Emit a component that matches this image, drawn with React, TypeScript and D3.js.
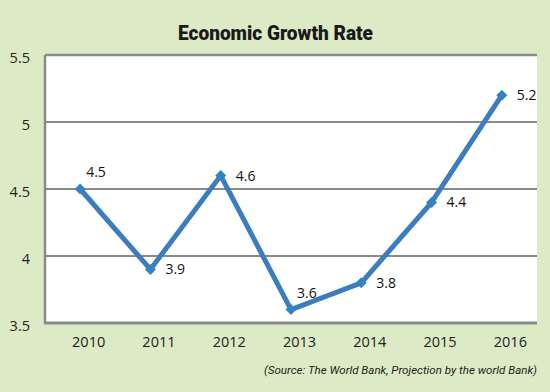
import React, { useEffect, useRef } from 'react';
import * as d3 from 'd3';

const width = 550;
const height = 392;
const plot = { left: 45, right: 537, top: 55, bottom: 323 };
const bg = '#dcebc5';
const blue = '#3b7dbd';
const grid = '#8a8a8a';

// data
const years = ['2010', '2011', '2012', '2013', '2014', '2015', '2016'];
const growth = [4.5, 3.9, 4.6, 3.6, 3.8, 4.4, 5.2];
const yTicks = [3.5, 4, 4.5, 5, 5.5];
// where each value label sits relative to its point
const labelSide = ['above', 'right', 'right', 'above', 'right', 'right', 'right'];

const xScale = d3.scalePoint<string>().domain(years).range([plot.left, plot.right]).padding(0.5);
const yScale = d3.scaleLinear().domain([3.5, 5.5]).range([plot.bottom, plot.top]);

const line = d3.line<number>()
  .x((d, i) => xScale(years[i]) as number)
  .y(d => yScale(d));

const diamond = d3.symbol().type(d3.symbolSquare).size(60);

export default function App() {
  const xAxisRef = useRef<SVGGElement>(null);
  const yAxisRef = useRef<SVGGElement>(null);

  useEffect(() => {
    const xAxis = d3.axisBottom(xScale).tickSize(0).tickPadding(0);
    const gx = d3.select(xAxisRef.current!).call(xAxis);
    gx.select('.domain').remove();
    gx.selectAll('text')
      .attr('dy', '0')
      .attr('y', 24)
      .attr('fill', '#222')
      .style('font-size', '14.5px')
      .style('font-family', '"Open Sans", "Noto Sans", sans-serif');

    const yAxis = d3.axisLeft(yScale).tickValues(yTicks).tickSize(0).tickPadding(0)
      .tickFormat(d => `${d}`);
    const gy = d3.select(yAxisRef.current!).call(yAxis);
    gy.select('.domain').remove();
    gy.selectAll('text')
      .attr('dy', '0.32em')
      .attr('y', 3)
      .attr('fill', '#222')
      .style('font-size', '14.5px')
      .style('font-family', '"Open Sans", "Noto Sans", sans-serif');
  }, []);

  const pts = growth.map((v, i) => ({ x: xScale(years[i]) as number, y: yScale(v), v, side: labelSide[i] }));

  return (
    <svg width={width} height={height} style={{ position: 'absolute', left: 0, top: 0 }}>
      <rect x={0} y={0} width={width} height={height} fill={bg} />
      <text x={178} y={40} fontWeight={900} fontSize={20.5} textLength={195} lengthAdjust="spacingAndGlyphs"
        fontFamily='Roboto, "Liberation Sans", sans-serif' fill="#1a1a1a">
        Economic Growth Rate
      </text>

      <rect x={plot.left} y={plot.top} width={plot.right - plot.left} height={plot.bottom - plot.top} fill="#fff" />
      {yTicks.slice(1, -1).map(t => (
        <line key={t} x1={plot.left} x2={plot.right} y1={yScale(t)} y2={yScale(t)} stroke={grid} strokeWidth={2} />
      ))}
      <line x1={plot.left} x2={plot.right} y1={plot.top} y2={plot.top} stroke={grid} strokeWidth={2.5} />
      <line x1={plot.left} x2={plot.left} y1={plot.top} y2={plot.bottom} stroke={grid} strokeWidth={2.5} />
      <line x1={plot.left - 1} x2={plot.right} y1={plot.bottom} y2={plot.bottom} stroke={grid} strokeWidth={3} />

      <path d={line(growth) || ''} fill="none" stroke={blue} strokeWidth={5} strokeLinejoin="miter" />
      {pts.map((p, i) => (
        <path key={i} d={diamond() || ''} transform={`translate(${p.x},${p.y}) rotate(45)`} fill="#3282c4" />
      ))}
      {pts.map((p, i) => (
        <text key={i}
          x={p.side === 'above' ? p.x + 6 : p.x + 15}
          y={p.side === 'above' ? p.y - 12 : p.y + 5}
          fontSize={14} fill="#111"
          fontFamily='"Open Sans", "Noto Sans", sans-serif'>
          {p.v}
        </text>
      ))}

      <g ref={xAxisRef} transform={`translate(8, ${plot.bottom})`} />
      <g ref={yAxisRef} transform={`translate(30, 0)`} />

      <text x={264} y={374} fontStyle="italic" fontSize={11.5} textLength={273} lengthAdjust="spacingAndGlyphs"
        fontFamily='Roboto, "Liberation Sans", sans-serif' fill="#222">
        (Source: The World Bank, Projection by the world Bank)
      </text>
    </svg>
  );
}
